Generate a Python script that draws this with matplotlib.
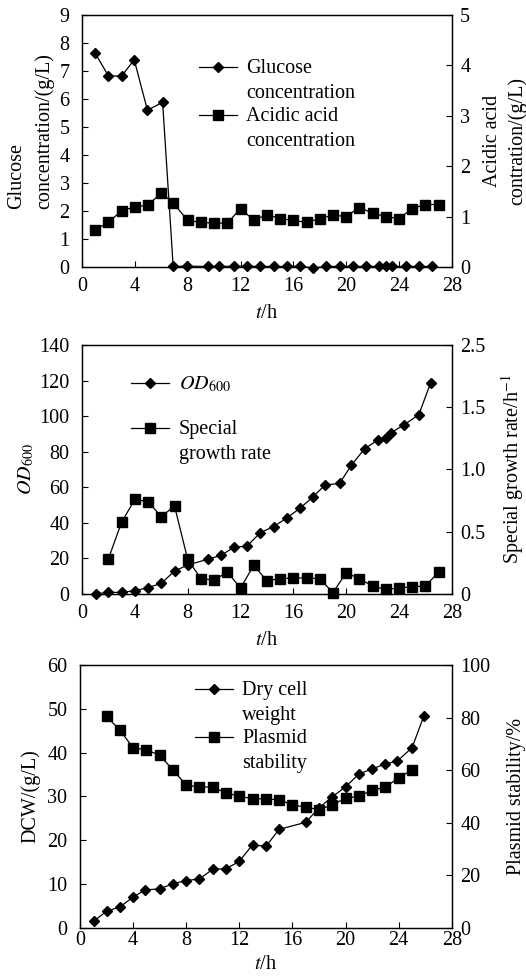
import matplotlib.pyplot as plt
from matplotlib.transforms import ScaledTranslation

plt.rcParams['font.family'] = ['Liberation Serif', 'DejaVu Serif']
plt.rcParams['mathtext.fontset'] = 'stix'
plt.rcParams['font.size'] = 14.5

# ---- panel 1: glucose / acetic acid ----
glucose_t = [1.0, 2.0, 3.0, 3.95, 4.95, 6.1, 6.9, 7.95, 9.5, 10.4, 11.5, 12.5, 13.5,
             14.5, 15.5, 16.5, 17.5, 18.5, 19.5, 20.5, 21.5, 22.5, 23.0, 23.5, 24.5, 25.5, 26.5]
glucose = [7.63, 6.82, 6.82, 7.4, 5.6, 5.88, 0.02, 0.03, 0.02, 0.02, 0.03, 0.03, 0.02,
           0.02, 0.02, 0.03, -0.04, 0.02, 0.02, 0.02, 0.02, 0.02, 0.02, 0.02, 0.02, 0.02, 0.02]
acid_t = [1, 2, 3, 4, 5, 6, 6.9, 8, 9, 10, 11, 12, 13, 14, 15, 16, 17, 18, 19, 20,
          21, 22, 23, 24, 25, 26, 27]
acid = [0.74, 0.885, 1.12, 1.19, 1.23, 1.47, 1.27, 0.925, 0.885, 0.87, 0.87, 1.16, 0.925,
        1.04, 0.96, 0.925, 0.885, 0.96, 1.03, 1.0, 1.18, 1.07, 1.0, 0.96, 1.16, 1.24, 1.24]

# ---- panel 2: OD600 / specific growth rate ----
od_t = [1.05, 2, 3, 4, 5, 6, 7, 8, 9.5, 10.5, 11.5, 12.5, 13.5, 14.5, 15.5, 16.5, 17.5,
        18.4, 19.5, 20.4, 21.4, 22.4, 23.0, 23.4, 24.4, 25.5, 26.4]
od = [0.2, 0.9, 0.9, 1.9, 3.6, 6.0, 12.9, 16.3, 19.5, 21.7, 26.2, 27.0, 34.5, 37.9, 42.7,
      48.2, 54.7, 61.3, 62.2, 72.5, 81.7, 86.6, 87.7, 90.7, 95.2, 100.8, 118.8]
mu_t = list(range(2, 28))
mu = [0.284, 0.578, 0.76, 0.742, 0.621, 0.707, 0.278, 0.123, 0.112, 0.177, 0.048, 0.23,
      0.107, 0.123, 0.129, 0.129, 0.123, 0.011, 0.171, 0.123, 0.064, 0.037, 0.048, 0.059,
      0.064, 0.177]
mu_ticks = [0, 0.5, 1.0, 1.5, 2.0]
mu_ticklabels = ['0', '0.5', '1.0', '1.5', '2.5']

# ---- panel 3: DCW / plasmid stability ----
dcw_t = [1.05, 2, 3, 4, 4.9, 6, 7, 8, 9, 10, 11, 12, 13, 14, 15, 17, 18, 18.95, 20, 21,
         22, 23, 23.9, 25, 25.9]
dcw = [1.6, 3.8, 4.8, 7.0, 8.7, 8.9, 10.1, 10.8, 11.2, 13.4, 13.5, 15.2, 19.0, 18.6, 22.5,
       24.1, 27.4, 29.8, 32.2, 35.1, 36.3, 37.4, 38.1, 41.1, 48.4]
ps_t = list(range(2, 26))
ps = [80.4, 75.3, 68.5, 67.7, 65.7, 60.1, 54.3, 53.6, 53.6, 51.3, 50.1, 49.1, 49.1, 48.7,
      46.8, 45.9, 45.0, 46.8, 49.3, 50.1, 52.3, 53.6, 57.1, 60.1]

xticks = list(range(0, 29, 4))

fig = plt.figure(figsize=(5.26, 9.77), dpi=100)

boxes = [[0.156, 0.7267, 0.703, 0.258],
         [0.156, 0.392, 0.703, 0.2549],
         [0.152, 0.0502, 0.707, 0.2692]]

lw = 0.9
dms = 5.2   # diamond size
sms = 6.8   # square size


def setup(ax, ax2, xpad=7, xlabelpad=6):
    for a in (ax, ax2):
        for s in a.spines.values():
            s.set_linewidth(0.9)
    ax.set_xlim(0, 28)
    ax.set_xticks(xticks)
    ax.tick_params(axis='x', direction='in', length=4, width=0.8, pad=xpad)
    ax.tick_params(axis='y', direction='in', length=4, width=0.8, pad=9)
    ax2.tick_params(axis='y', direction='in', length=4, width=0.8, pad=6)
    ax.set_xlabel('$t$/h', labelpad=xlabelpad)


def legend_block(ax, x0, items):
    off = ax.transAxes + ScaledTranslation(0, 5.5 / 72, fig.dpi_scale_trans)
    for y, marker, ms, text in items:
        ax.plot([x0, x0 + 0.103], [y, y], color='k', lw=lw, transform=ax.transAxes)
        ax.plot([x0 + 0.0515], [y], color='k', marker=marker, ms=ms, transform=ax.transAxes)
        ax.text(x0 + 0.128, y, text, transform=off, va='top', ha='left',
                linespacing=1.4)


# panel 1
ax = fig.add_axes(boxes[0])
ax2 = ax.twinx()
ax.plot(glucose_t, glucose, color='k', lw=lw, marker='D', ms=dms, clip_on=False, zorder=3)
ax2.plot(acid_t, acid, color='k', lw=lw, marker='s', ms=sms, clip_on=False)
ax.set_ylim(0, 9)
ax.set_yticks(range(0, 10))
ax2.set_ylim(0, 5)
ax2.set_yticks(range(0, 6))
setup(ax, ax2)
ax.set_ylabel('Glucose\nconcentration/(g/L)', labelpad=4, linespacing=1.55,
              multialignment='left')
ax.yaxis.label.set_y(0.54)
ax2.set_ylabel('Acidic acid\ncontration/(g/L)', rotation=90, labelpad=9, linespacing=1.4)
legend_block(ax, 0.316, [(0.794, 'D', dms, 'Glucose\nconcentration'),
                         (0.603, 's', sms, 'Acidic acid\nconcentration')])

# panel 2
ax = fig.add_axes(boxes[1])
ax2 = ax.twinx()
ax.plot(od_t, od, color='k', lw=lw, marker='D', ms=dms, clip_on=False, zorder=3)
ax2.plot(mu_t, mu, color='k', lw=lw, marker='s', ms=sms, clip_on=False)
ax.set_ylim(0, 140)
ax.set_yticks(range(0, 141, 20))
ax2.set_ylim(0, 2.0)
ax2.set_yticks(mu_ticks)
ax2.set_yticklabels(mu_ticklabels)
setup(ax, ax2)
ax.set_ylabel(r'$\mathit{OD}_{600}$', labelpad=2)
ax2.set_ylabel('Special growth rate/h$^{-1}$', rotation=90, labelpad=10)
legend_block(ax, 0.133, [(0.849, 'D', dms, r'$\mathit{OD}_{600}$'),
                         (0.667, 's', sms, 'Special\ngrowth rate')])

# panel 3
ax = fig.add_axes(boxes[2])
ax2 = ax.twinx()
ax.plot(dcw_t, dcw, color='k', lw=lw, marker='D', ms=dms, clip_on=False, zorder=3)
ax2.plot(ps_t, ps, color='k', lw=lw, marker='s', ms=sms, clip_on=False)
ax.set_ylim(0, 60)
ax.set_yticks(range(0, 61, 10))
ax2.set_ylim(0, 100)
ax2.set_yticks(range(0, 101, 20))
setup(ax, ax2, xpad=2, xlabelpad=4)
ax.set_ylabel('DCW/(g/L)', labelpad=5)
ax2.set_ylabel('Plasmid stability/%', rotation=90, labelpad=12)
legend_block(ax, 0.309, [(0.909, 'D', dms, 'Dry cell\nweight'),
                         (0.726, 's', sms, 'Plasmid\nstability')])

fig.savefig('out.png', dpi=100)
